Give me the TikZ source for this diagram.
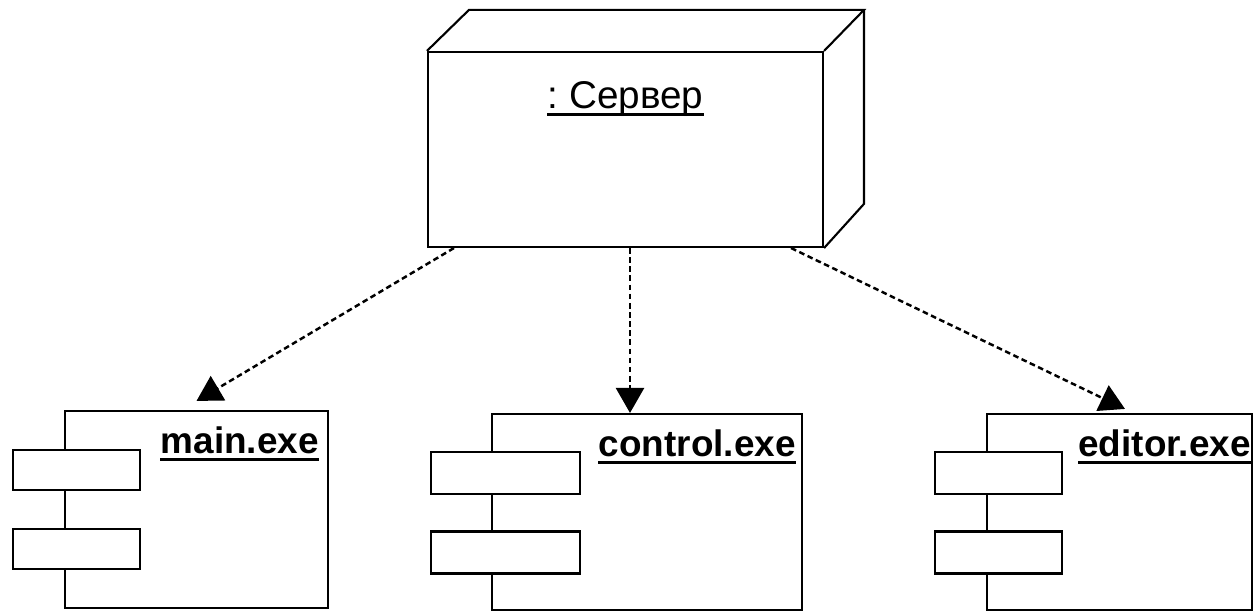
\documentclass[tikz,border=0pt]{standalone}
\usepackage{fontspec}
\setmainfont{Liberation Sans}
\usepackage{tikz}
\usetikzlibrary{arrows.meta,calc,positioning}

\tikzset{
	box/.style={draw, line width=1.2pt, fill=white},
	port/.style={box, minimum width=2.54cm, minimum height=0.8cm},
	comptitle/.style={inner sep=0pt, text depth=0pt, font=\fontsize{21}{25}\selectfont\bfseries},
	dep/.style={line width=1.4pt, dash pattern=on 3.2pt off 2pt, -{Triangle[length=0.5cm,width=0.56cm]}},
	uline/.style={line width=1.8pt}
}

\begin{document}
\begin{tikzpicture}
	\useasboundingbox (0,0) rectangle (25.06,-12.22);

	% Place nodes
	\node [box, minimum width=7.9cm, minimum height=3.9cm] (server) at (12.51,-2.99) {};
	\node [box, minimum width=5.26cm, minimum height=3.94cm] (main) at (3.93,-10.19) {};
	\node [box, minimum width=6.2cm, minimum height=3.92cm] (control) at (12.94,-10.24) {};
	\node [box, minimum width=5.3cm, minimum height=3.92cm] (editor) at (22.39,-10.24) {};

	\node [port] (mainA) at (1.53,-9.40) {};
	\node [port] (mainB) at (1.53,-10.98) {};
	\node [port, minimum width=2.98cm, minimum height=0.84cm] (controlA) at (10.11,-9.46) {};
	\node [port, minimum width=2.98cm, minimum height=0.84cm] (controlB) at (10.11,-11.05) {};
	\node [port, minimum height=0.84cm] (editorA) at (19.97,-9.46) {};
	\node [port, minimum height=0.84cm] (editorB) at (19.97,-11.05) {};

	% 3d sides of the server
	\draw [line width=1.2pt] (server.north west) -- ++(0.84,0.82) -- ++(7.9,0) coordinate (backtop) -- (server.north east);
	\draw [line width=1.2pt] (backtop) -- ++(0,-3.88) -- (server.south east);

	% Titles
	\node [inner sep=0pt, text depth=0pt, font=\fontsize{22}{26}\selectfont, below=0.6cm of server.north] (servername) {:\ Сервер};
	\node [comptitle, below left=0.32cm and 0.2cm of main.north east] (mainname) {main.exe};
	\node [comptitle, below left=0.32cm and 0.14cm of control.north east] (controlname) {control.exe};
	\node [comptitle, below left=0.32cm and 0.04cm of editor.north east] (editorname) {editor.exe};
	\foreach \t in {servername,mainname,controlname,editorname}
		\draw [uline] ([yshift=-0.12cm]\t.south west) -- ([yshift=-0.12cm]\t.south east);

	% Draw edges
	\coordinate (ctip) at ([xshift=-0.34cm]control.north);
	\draw [dep] ([xshift=0.54cm]server.south west) -- ([yshift=0.18cm]main.north);
	\draw [dep] (server.south -| ctip) -- (ctip);
	\draw [dep] ([xshift=-0.66cm]server.south east) -- ([xshift=0.11cm,yshift=0.08cm]editor.north);
\end{tikzpicture}
\end{document}
